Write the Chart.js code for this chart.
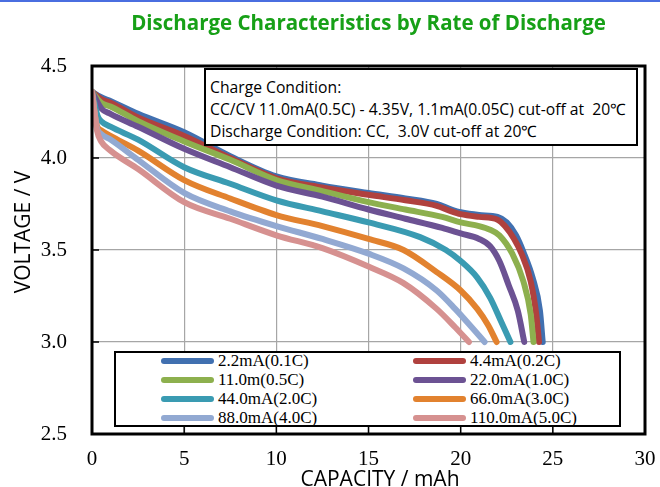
<!DOCTYPE html>
<html>
<head>
<meta charset="utf-8">
<script src="https://cdn.jsdelivr.net/npm/chart.js@4"></script>
<style>
  body { margin: 0; background: #fff; }
  #wrap { position: relative; width: 660px; height: 487px; overflow: hidden; border-top: 2px solid #4a6ee0; box-sizing: border-box; }
  #c { position: absolute; left: 0; top: 0; }
  #title { position: absolute; top: 6px; left: 92px; width: 553px; text-align: center;
    font: bold 20.5px "Open Sans", sans-serif; color: #17a017; white-space: nowrap; }
  #note { position: absolute; left: 204px; top: 66px; width: 434px; height: 78px; background: #fff;
    border: 2px solid #000; font: 15.7px "Open Sans", sans-serif; line-height: 22px; padding: 6px 0 0 4px;
    box-sizing: border-box; white-space: nowrap; color: #000; }
  #legend { position: absolute; left: 114px; top: 349px; width: 507px; height: 76px; background: #fff;
    border: 2px solid #000; box-sizing: border-box; }
  .item { position: absolute; font: 17px "Liberation Serif", serif; color: #000; white-space: nowrap; height: 19px; line-height: 19px; }
  .sw { display: inline-block; width: 53px; height: 6px; border-radius: 3px; vertical-align: middle; margin-right: 4px; position: relative; top: -1px; }
  .axt { position: absolute; font: 21px "Open Sans", sans-serif; color: #000; white-space: nowrap; line-height: 24px; }
  #xt { left: 280px; width: 200px; text-align: center; top: 464px; }
  #yt { left: -78px; width: 200px; text-align: center; top: 218px; transform: rotate(-90deg); }
</style>
</head>
<body>
<div id="wrap">
  <canvas id="c" width="660" height="487"></canvas>
  <div id="title">Discharge Characteristics by Rate of Discharge</div>
  <div id="note">Charge Condition:<br>CC/CV 11.0mA(0.5C) - 4.35V, 1.1mA(0.05C) cut-off at &nbsp;20℃<br>Discharge Condition: CC, &nbsp;3.0V cut-off at 20℃</div>
  <div id="legend"></div>
  <div class="axt" id="xt">CAPACITY / mAh</div>
  <div class="axt" id="yt">VOLTAGE / V</div>
</div>
<script>
// capacity (mAh) / voltage (V), one pair per discharge rate
const cap01 = [0, 0.5, 1, 2.5, 5, 7.5, 10, 12.5, 15, 17, 18.7, 19.5, 20, 21, 22, 22.5, 23, 23.4, 23.9, 24.3, 24.45];
const volt01 = [4.36, 4.33, 4.31, 4.24, 4.14, 4.01, 3.90, 3.85, 3.81, 3.78, 3.75, 3.72, 3.705, 3.69, 3.68, 3.65, 3.58, 3.49, 3.35, 3.17, 3.00];

const cap02 = [0, 0.5, 1, 2.5, 5, 7.5, 10, 12.5, 15, 17, 18.7, 19.5, 20, 21, 22, 22.4, 22.9, 23.3, 23.8, 24.1, 24.25];
const volt02 = [4.36, 4.32, 4.30, 4.22, 4.12, 4.00, 3.89, 3.84, 3.80, 3.77, 3.74, 3.71, 3.695, 3.68, 3.665, 3.63, 3.56, 3.48, 3.33, 3.15, 3.00];

const cap05 = [0, 0.5, 1, 2.5, 5, 7.5, 10, 12.5, 15, 17, 19, 20, 21, 21.6, 22.1, 22.8, 23.4, 23.8, 23.95];
const volt05 = [4.36, 4.30, 4.28, 4.20, 4.09, 3.99, 3.88, 3.82, 3.76, 3.72, 3.68, 3.65, 3.63, 3.61, 3.58, 3.48, 3.33, 3.15, 3.00];

const cap10 = [0, 0.5, 1, 2.5, 5, 7.5, 10, 12.5, 15, 17, 19, 20, 21, 21.6, 22.1, 22.6, 23.1, 23.45];
const volt10 = [4.36, 4.27, 4.24, 4.17, 4.05, 3.95, 3.85, 3.79, 3.72, 3.67, 3.62, 3.59, 3.56, 3.52, 3.44, 3.31, 3.17, 3.00];

const cap20 = [0, 0.3, 0.5, 1, 2.5, 5, 7.5, 10, 12.5, 15, 17.8, 19.2, 20, 20.9, 21.6, 22.2, 22.7];
const volt20 = [4.36, 4.23, 4.20, 4.17, 4.10, 3.95, 3.86, 3.77, 3.71, 3.65, 3.57, 3.50, 3.44, 3.35, 3.24, 3.11, 3.00];

const cap30 = [0, 0.25, 0.5, 1, 2.5, 5, 7.5, 10, 12.5, 15, 16.9, 18.7, 20, 20.9, 21.5, 21.95];
const volt30 = [4.36, 4.18, 4.15, 4.12, 4.04, 3.88, 3.78, 3.69, 3.63, 3.56, 3.50, 3.38, 3.28, 3.18, 3.09, 3.00];

const cap40 = [0, 0.25, 0.5, 1, 2.5, 5, 7.5, 10, 12.5, 15, 16.9, 18.7, 19.7, 20.6, 21.3];
const volt40 = [4.36, 4.17, 4.13, 4.10, 3.99, 3.81, 3.71, 3.63, 3.56, 3.48, 3.40, 3.28, 3.18, 3.08, 3.00];

const cap50 = [0, 0.1, 0.27, 0.5, 1, 2.5, 5, 7.5, 10, 12.5, 15, 16.9, 18.7, 19.7, 20.45];
const volt50 = [4.36, 4.28, 4.15, 4.09, 4.04, 3.94, 3.76, 3.67, 3.58, 3.51, 3.41, 3.32, 3.18, 3.08, 3.00];

const labels = ['2.2mA(0.1C)', '4.4mA(0.2C)', '11.0m(0.5C)', '22.0mA(1.0C)',
                '44.0mA(2.0C)', '66.0mA(3.0C)', '88.0mA(4.0C)', '110.0mA(5.0C)'];
const colors = ['#4170b0', '#b0413e', '#8db04e', '#6c5293', '#3a9bb2', '#e2822f', '#92a9d2', '#d69190'];
const caps = [cap01, cap02, cap05, cap10, cap20, cap30, cap40, cap50];
const volts = [volt01, volt02, volt05, volt10, volt20, volt30, volt40, volt50];

const xTicks = [0, 5, 10, 15, 20, 25, 30];
const yTicks = [2.5, 3.0, 3.5, 4.0, 4.5];

// frame + inward tick marks
const frame = {
  id: 'frame',
  afterDraw(chart) {
    const { ctx, chartArea: a, scales } = chart;
    ctx.save();
    ctx.strokeStyle = '#000';
    ctx.lineWidth = 1.5;
    ctx.beginPath();
    xTicks.forEach(v => {
      const px = scales.x.getPixelForValue(v);
      ctx.moveTo(px, a.bottom); ctx.lineTo(px, a.bottom - 7);
    });
    yTicks.forEach(v => {
      const py = scales.y.getPixelForValue(v);
      ctx.moveTo(a.left, py); ctx.lineTo(a.left + 7, py);
    });
    ctx.stroke();
    ctx.lineWidth = 3;
    ctx.strokeRect(a.left, a.top, a.right - a.left, a.bottom - a.top);
    ctx.restore();
  }
};

new Chart(document.getElementById('c'), {
  type: 'scatter',
  data: {
    datasets: labels.map((l, i) => ({
      label: l,
      data: caps[i].map((c, j) => ({ x: c, y: volts[i][j] })),
      showLine: true,
      borderColor: colors[i],
      backgroundColor: colors[i],
      borderWidth: 6,
      borderCapStyle: 'round',
      borderJoinStyle: 'round',
      pointRadius: 0,
      cubicInterpolationMode: 'monotone',
      order: 8 - i
    }))
  },
  options: {
    responsive: false,
    animation: false,
    layout: { padding: { top: 64, right: 15, left: 0, bottom: 0 } },
    plugins: { legend: { display: false }, tooltip: { enabled: false } },
    scales: {
      x: {
        type: 'linear', min: 0, max: 30,
        afterFit: s => { s.height = 55; s.paddingLeft = 0; s.paddingRight = 0; },
        afterBuildTicks: s => { s.ticks = xTicks.map(v => ({ value: v })); },
        grid: { color: '#a6a6a6', lineWidth: 1.2, drawTicks: false },
        border: { display: false },
        ticks: { padding: 13, color: '#000', font: { family: 'Liberation Serif', size: 21 } }
      },
      y: {
        type: 'linear', min: 2.5, max: 4.5,
        afterFit: s => { s.width = 92; s.paddingTop = 0; s.paddingBottom = 0; },
        afterBuildTicks: s => { s.ticks = yTicks.map(v => ({ value: v })); },
        grid: { color: '#a6a6a6', lineWidth: 1.2, drawTicks: false },
        border: { display: false },
        ticks: { padding: 25, color: '#000', font: { family: 'Liberation Serif', size: 21 },
                 callback: v => v.toFixed(1) }
      }
    }
  },
  plugins: [frame]
});

// legend built from the same labels/colors
const lg = document.getElementById('legend');
const rowsY = [-2, 17, 36, 55];
labels.forEach((l, i) => {
  const d = document.createElement('div');
  d.className = 'item';
  d.style.left = (i % 2 === 0 ? 45 : 297) + 'px';
  d.style.top = rowsY[Math.floor(i / 2)] + 'px';
  d.innerHTML = '<span class="sw" style="background:' + colors[i] + '"></span>' + l;
  lg.appendChild(d);
});
</script>
</body>
</html>
